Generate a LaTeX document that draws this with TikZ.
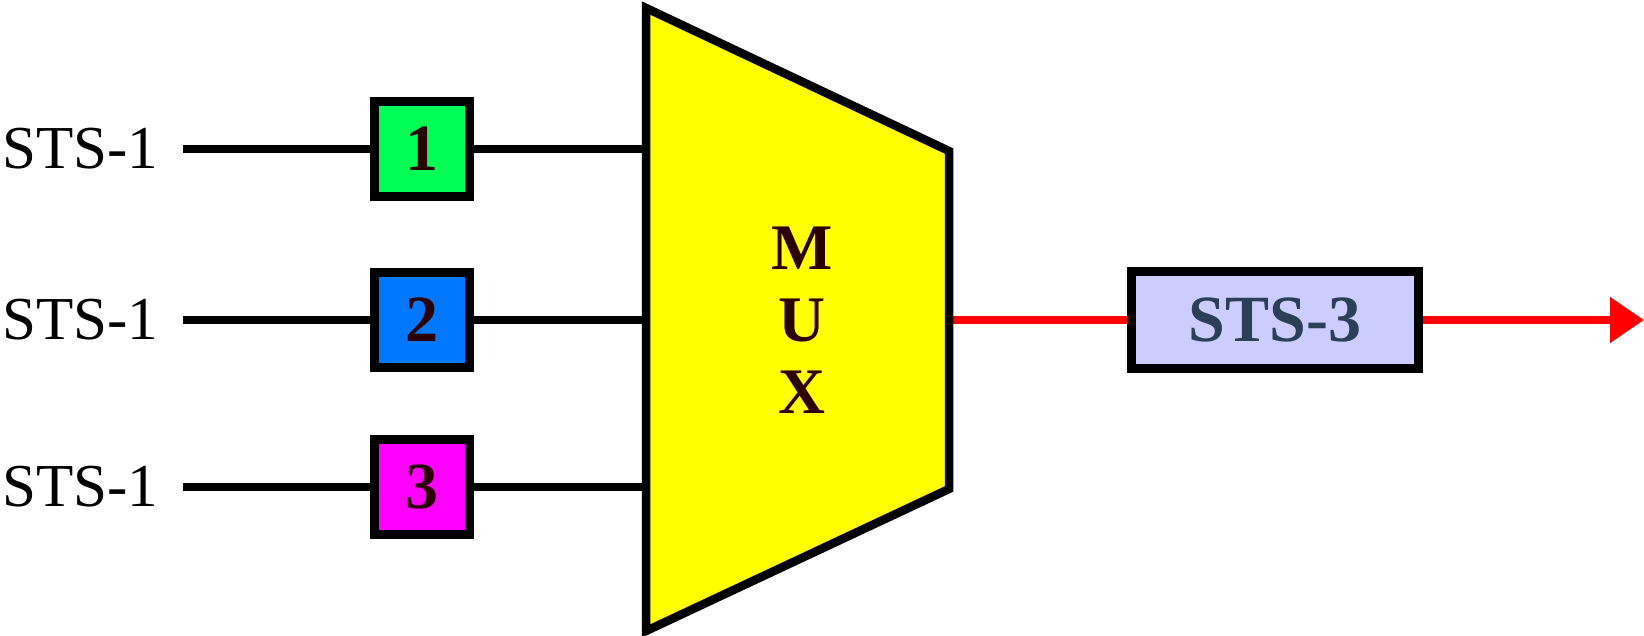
\documentclass[tikz,border=0pt]{standalone}
\usepackage{fontspec}
\setmainfont{Liberation Serif}
\usetikzlibrary{arrows.meta}
\definecolor{cgreen}{HTML}{00FF55}
\definecolor{cblue}{HTML}{0077FF}
\definecolor{cmag}{HTML}{FF00FF}
\definecolor{cyel}{HTML}{FFFF00}
\definecolor{clav}{HTML}{CCCCFF}
\definecolor{cnavy}{HTML}{2B3F56}
\definecolor{cbrown}{HTML}{2A0000}
\tikzset{
  lbl/.style={anchor=west,inner sep=0pt,font=\fontsize{61}{70}\selectfont},
  numbox/.style={draw=black,line width=8.5pt,minimum size=95pt,inner sep=0pt,
     font=\fontsize{66}{70}\selectfont\bfseries,text=cbrown},
  wire/.style={line width=8pt,black},
  redwire/.style={line width=8pt,red}
}
\begin{document}
\begin{tikzpicture}[x=1pt,y=-1pt]
\useasboundingbox (0,0) rectangle (1644,636);
% mux corners and ports
\coordinate (tl) at (646,8);
\coordinate (bl) at (646,631);
\coordinate (tr) at (949,151);
\coordinate (br) at (949,489);
\coordinate (m1) at (646,149);
\coordinate (m2) at (646,320);
\coordinate (m3) at (646,487);
\coordinate (mo) at (949,320);
\coordinate (tip) at (1644,320);
\coordinate (w1) at (183,149);
\coordinate (w2) at (183,320);
\coordinate (w3) at (183,487);
% labels
\node[lbl] (s1) at (2,149) {STS-1};
\node[lbl] (s2) at (2,320) {STS-1};
\node[lbl] (s3) at (2,487) {STS-1};
% boxes
\node[numbox,fill=cgreen] (b1) at (422,149) {1};
\node[numbox,fill=cblue] (b2) at (422,320) {2};
\node[numbox,fill=cmag] (b3) at (422,487) {3};
\node[draw=black,line width=8.5pt,fill=clav,minimum width=287pt,minimum height=97pt,
      inner sep=0pt,font=\fontsize{66}{70}\selectfont\bfseries,text=cnavy] (o) at (1275,320) {STS-3};
% wires
\draw[wire] (w1) -- (b1.west);
\draw[wire] (b1.east) -- (m1);
\draw[wire] (w2) -- (b2.west);
\draw[wire] (b2.east) -- (m2);
\draw[wire] (w3) -- (b3.west);
\draw[wire] (b3.east) -- (m3);
\draw[redwire] (mo) -- (o.west);
\draw[redwire,-{Triangle[length=34pt,width=44pt]}] (o.east) -- (tip);
% mux
\draw[line width=8.5pt,fill=cyel,line join=miter] (tl) -- (tr) -- (br) -- (bl) -- cycle;
\node[align=center,inner sep=0pt,font=\fontsize{65}{72}\selectfont\bfseries,text=cbrown] (mux) at (802,320) {M\\U\\X};
\end{tikzpicture}
\end{document}
